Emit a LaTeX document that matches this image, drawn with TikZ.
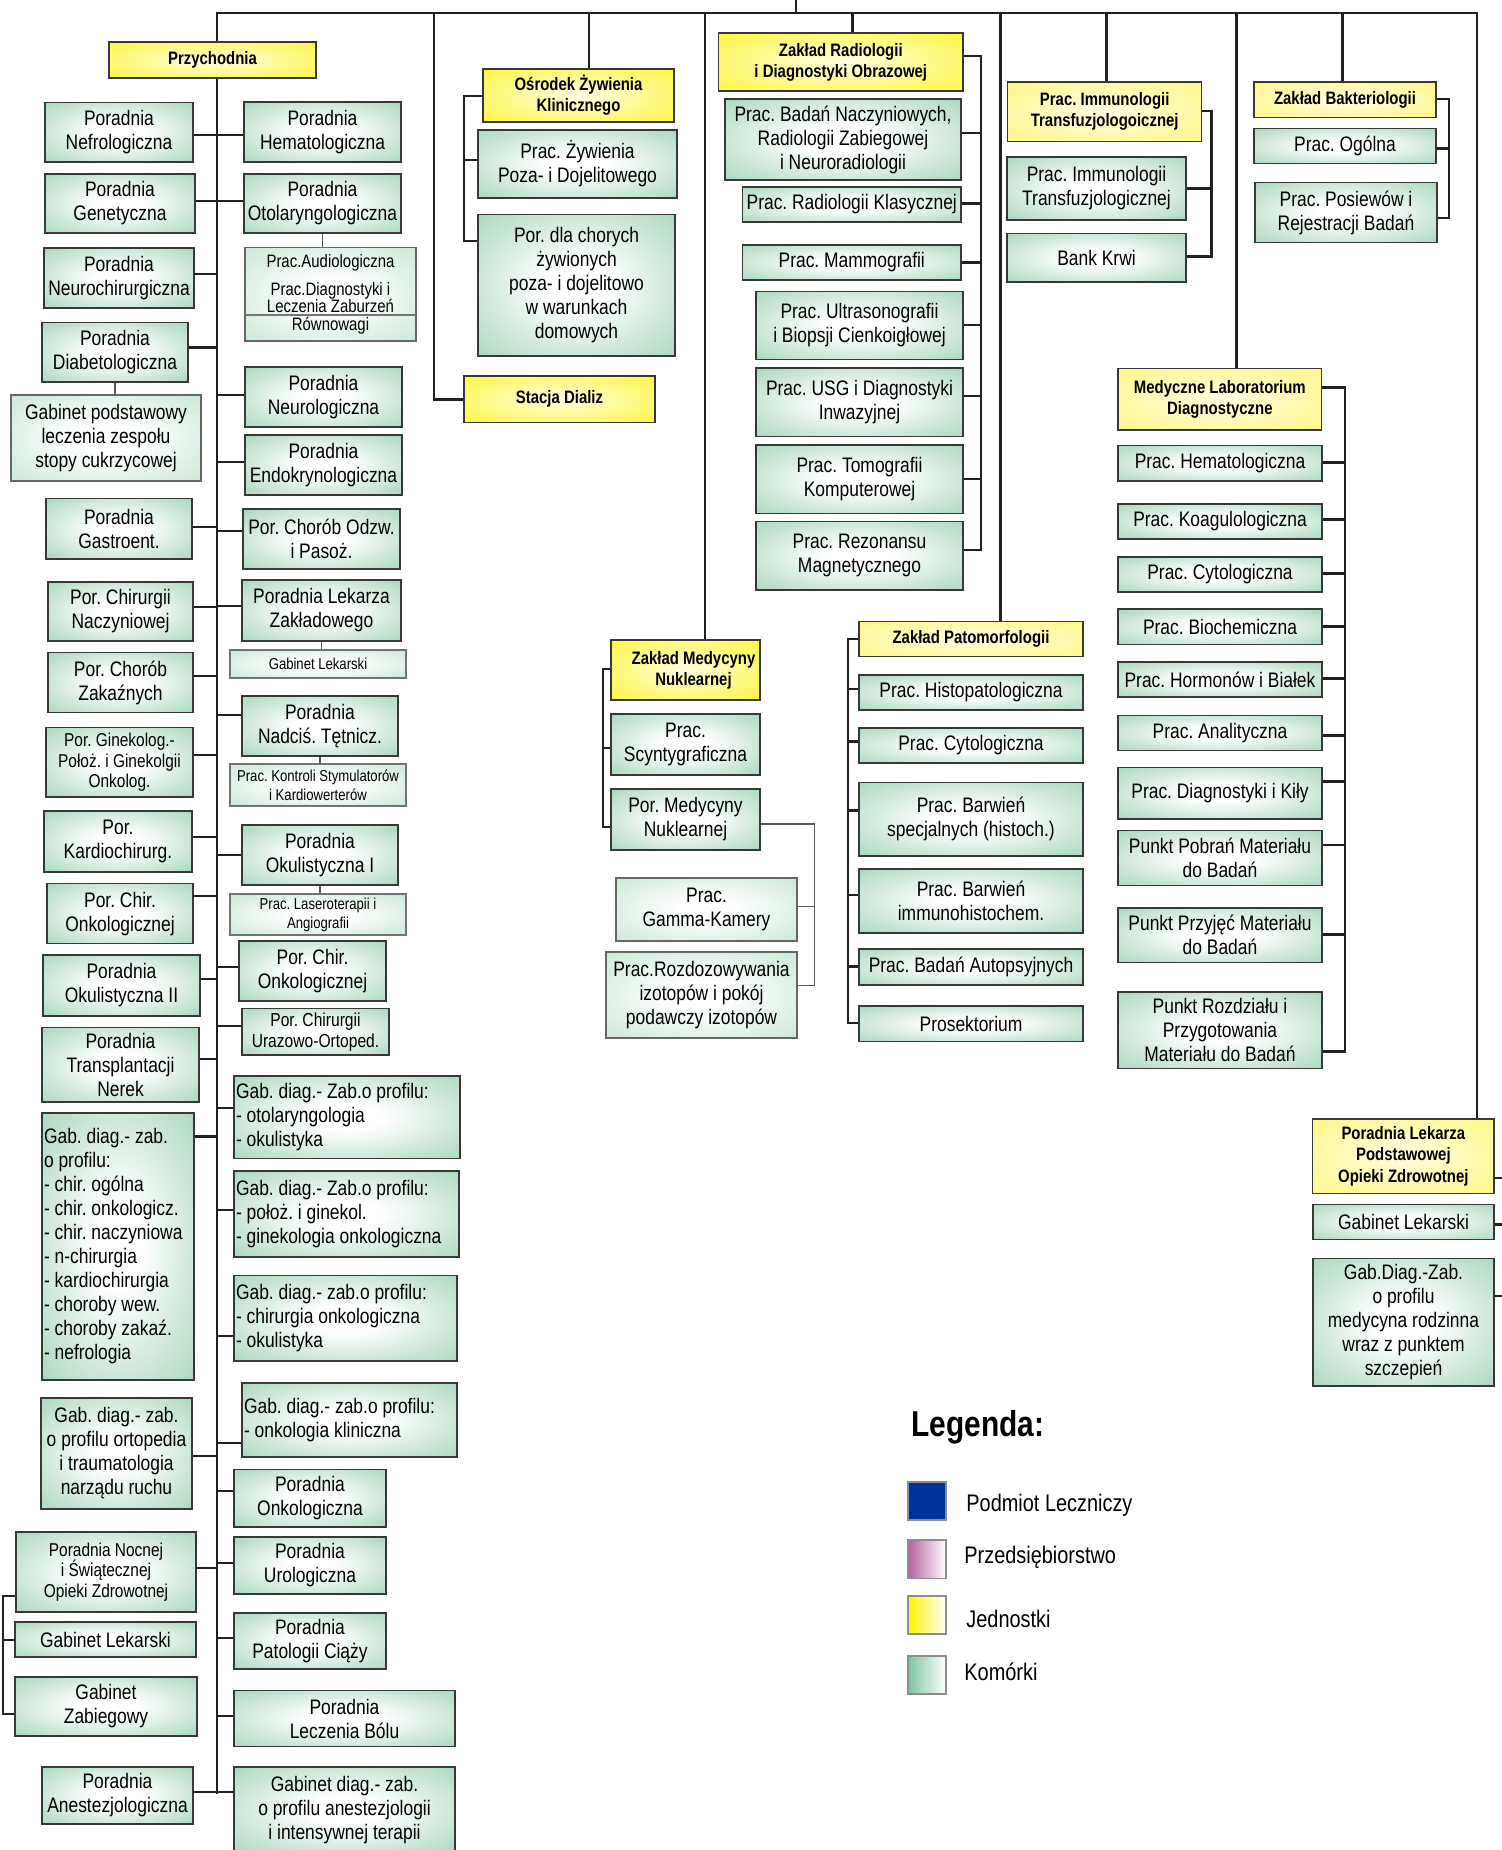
\documentclass[tikz,border=0pt]{standalone}
\usepackage{fontspec}
\setmainfont[FakeStretch=0.83]{Liberation Sans}
\usetikzlibrary{calc}
\definecolor{cellg}{RGB}{126,196,158}
\definecolor{lightg}{RGB}{176,220,194}
\definecolor{yel}{RGB}{255,242,0}
\definecolor{paley}{RGB}{255,244,100}
\definecolor{linec}{RGB}{35,31,32}
\definecolor{legblue}{RGB}{0,51,153}
\definecolor{legpink}{RGB}{180,96,160}
\pgfdeclareradialshading{cellshade}{\pgfpoint{0bp}{0bp}}{color(0bp)=(white);color(8bp)=(white);color(50bp)=(cellg)}
\pgfdeclareradialshading{lightshade}{\pgfpoint{0bp}{0bp}}{color(0bp)=(white);color(8bp)=(white);color(50bp)=(lightg)}
\pgfdeclareradialshading{yelshade}{\pgfpoint{0bp}{0bp}}{color(0bp)=(yel!12!white);color(50bp)=(yel)}
\pgfdeclareradialshading{paleshade}{\pgfpoint{0bp}{0bp}}{color(0bp)=(paley!20!white);color(50bp)=(paley)}
\pgfdeclarelayer{bg}
\pgfsetlayers{bg,main}
\lineskiplimit=-20pt
\frenchspacing
\newcommand\mkbox[7]{%
 \pgfmathsetlengthmacro\bxw{(#5-#3)*0.5pt}%
 \pgfmathsetlengthmacro\bxh{(#6-#4)*0.5pt}%
 \node[#1,minimum width=\bxw,minimum height=\bxh] (#2) at ({(#3+#5)/2},{(#4+#6)/2}) {#7};}
\newcommand\mkboxL[7]{%
 \pgfmathsetlengthmacro\bxw{(#5-#3)*0.5pt-2pt}%
 \pgfmathsetlengthmacro\bxh{(#6-#4)*0.5pt}%
 \node[#1,text width=\bxw,inner xsep=1pt,minimum height=\bxh,align=left] (#2) at ({(#3+#5)/2},{(#4+#6)/2}) {\spaceskip=0pt\xspaceskip=0pt\relax#7};}
\newcommand\tickE[3]{\draw[conn] (#1 |- 0,#3) -- (#2.east |- 0,#3);}
\newcommand\tickW[3]{\draw[conn] (#1 |- 0,#3) -- (#2.west |- 0,#3);}
\newcommand\vbar[3]{\draw[conn] (#1 |- 0,#2) -- (#1 |- 0,#3);}
\begin{document}
\frenchspacing
\begin{tikzpicture}[x=0.5pt,y=-0.5pt,
 base/.style={draw=black!78,line width=0.7pt,inner sep=0pt,outer sep=0pt,align=center},
 cell/.style={base,shading=cellshade,font=\fontsize{10.5}{12}\selectfont},
 cellsm/.style={cell,font=\fontsize{9.3}{10.4}\selectfont},
 sub/.style={base,draw=black!55,line width=0.55pt,shading=lightshade,font=\fontsize{7.9}{9.5}\selectfont},
 subbig/.style={base,draw=black!60,line width=0.6pt,shading=lightshade,font=\fontsize{10.5}{12}\selectfont},
 head/.style={base,shading=yelshade,font=\bfseries\fontsize{9}{10.6}\selectfont},
 headp/.style={base,shading=paleshade,font=\bfseries\fontsize{9}{10.6}\selectfont},
 conn/.style={draw=linec,line width=1.35pt,line cap=rect},
 thinconn/.style={draw=black!65,line width=0.55pt},
 legsq/.style={draw=black!45,line width=0.6pt,inner sep=0pt,outer sep=0pt},
 legt/.style={anchor=west,inner sep=0pt,font=\fontsize{12}{14}\selectfont}]
\useasboundingbox (0,0) rectangle (1501,1850);
% ---------- coordinates for connector lines
\coordinate (tb) at (0,13);
\coordinate (trunk) at (217,0);
\coordinate (rbar) at (1477,0);
\coordinate (topin) at (796,0);
\coordinate (xSt) at (434,0);
\coordinate (xOs) at (589,0);
\coordinate (xNu) at (705,0);
\coordinate (xRa) at (852.5,0);
\coordinate (xPa) at (1000.7,0);
\coordinate (xIm) at (1106.7,0);
\coordinate (xLa) at (1236.7,0);
\coordinate (xBa) at (1342.3,0);
\coordinate (bOs) at (464,0);
\coordinate (bRa) at (981,0);
\coordinate (bIm) at (1211.7,0);
\coordinate (bBa) at (1449,0);
\coordinate (bLa) at (1345,0);
\coordinate (bNu) at (603,0);
\coordinate (bNuB) at (814.6,0);
\coordinate (bPa) at (848,0);
\coordinate (bLb) at (3,0);
\coordinate (redge) at (1501,0);
% ---------- units (yellow)
\mkbox{head}{przych}{109}{42}{316}{78}{Przychodnia}
\mkbox{head}{osrodek}{483}{69}{674}{122}{Ośrodek Żywienia\\Klinicznego}
\mkbox{head}{stacja}{464}{376}{655}{422.5}{Stacja Dializ}
\mkbox{head}{radio}{718.6}{33}{963}{91}{Zakład Radiologii\\i Diagnostyki Obrazowej}
\mkbox{head}{zmn}{611}{640}{760}{700}{\hspace*{8pt}Zakład Medycyny\\\hspace*{8pt}Nuklearnej}
\mkbox{headp}{immuno}{1007.7}{82}{1201.7}{141.3}{Prac. Immunologii\\Transfuzjologoicznej}
\mkbox{headp}{bakt}{1254}{82}{1436}{117.6}{Zakład Bakteriologii}
\mkbox{headp}{lab}{1118}{368.8}{1321.7}{430}{Medyczne Laboratorium\\Diagnostyczne}
\mkbox{headp}{patom}{859}{621.7}{1083}{656.7}{Zakład Patomorfologii}
\mkbox{headp}{plp}{1312.7}{1119}{1494}{1193.3}{Poradnia Lekarza\\Podstawowej\\Opieki Zdrowotnej}
% ---------- Przychodnia, left of trunk
\mkbox{cell}{nefro}{45}{102.5}{193}{162}{Poradnia\\Nefrologiczna}
\mkbox{cell}{genet}{45}{174}{195}{233}{Poradnia\\Genetyczna}
\mkbox{cell}{neuroch}{44}{248}{194}{308}{Poradnia\\Neurochirurgiczna}
\mkbox{cell}{diabet}{42}{322.5}{188}{382}{Poradnia\\Diabetologiczna}
\mkbox{subbig}{gabpodst}{11}{395}{201}{481}{Gabinet podstawowy\\leczenia zespołu\\stopy cukrzycowej}
\mkbox{cell}{gastro}{46}{498.5}{192}{559}{Poradnia\\Gastroent.}
\mkbox{cell}{chirnacz}{48}{582}{193}{641}{Por. Chirurgii\\Naczyniowej}
\mkbox{cell}{zakaz}{48}{652.5}{193}{712.5}{Por. Chorób\\Zakaźnych}
\mkbox{cellsm}{ginek}{46}{727.5}{193}{797}{Por. Ginekolog.-\\Położ. i Ginekolgii\\Onkolog.}
\mkbox{cell}{kardio}{44}{811}{192}{872}{Por.\\Kardiochirurg.}
\mkbox{cell}{chironkL}{47}{883.6}{193}{943.6}{Por. Chir.\\Onkologicznej}
\mkbox{cell}{okulII}{43}{955}{200}{1016}{Poradnia\\Okulistyczna II}
\mkbox{cell}{transpl}{42}{1027.5}{199}{1102}{Poradnia\\Transplantacji\\Nerek}
\mkboxL{cell}{gdL}{42}{1113}{194}{1380}{Gab. diag.- zab.\\o profilu:\\- chir. ogólna\\- chir. onkologicz.\\- chir. naczyniowa\\- n-chirurgia\\- kardiochirurgia\\- choroby wew.\\- choroby zakaź.\\- nefrologia}
\mkbox{cell}{ortop}{41}{1398}{192}{1509}{Gab. diag.- zab.\\o profilu ortopedia\\i traumatologia\\narządu ruchu}
\mkbox{cellsm}{nocnej}{16}{1532}{196}{1612}{Poradnia Nocnej\\i Świątecznej\\Opieki Zdrowotnej}
\mkbox{cell}{gablekL}{15}{1622}{196}{1657}{Gabinet Lekarski}
\mkbox{cell}{zabieg}{15}{1677}{197}{1736}{Gabinet\\Zabiegowy}
\mkbox{cell}{anest}{42}{1767}{193}{1824}{Poradnia\\Anestezjologiczna}
% ---------- Przychodnia, right of trunk
\mkbox{cell}{hemat}{244}{102}{401}{162}{Poradnia\\Hematologiczna}
\mkbox{cell}{otolar}{244}{174}{401}{233}{Poradnia\\Otolaryngologiczna}
\mkbox{base,draw=black!60,line width=0.6pt,shading=lightshade,font=\fontsize{9}{8.2}\selectfont}{audio}{245}{247.5}{416}{341}{Prac.Audiologiczna\\[6pt]Prac.Diagnostyki i\\Leczenia Zaburzeń\\[0.8pt]Równowagi}
\mkbox{cell}{neurol}{245}{367}{402}{427}{Poradnia\\Neurologiczna}
\mkbox{cell}{endokr}{245}{435}{402}{495}{Poradnia\\Endokrynologiczna}
\mkbox{cell}{odzw}{243}{509}{400}{569}{Por. Chorób Odzw.\\i Pasoż.}
\mkbox{cell}{lekzak}{242}{580}{401}{641}{Poradnia Lekarza\\Zakładowego}
\mkbox{sub}{gablekZ}{230}{650}{406}{678}{Gabinet Lekarski}
\mkbox{cell}{nadcis}{242}{696}{398}{756}{Poradnia\\Nadciś. Tętnicz.}
\mkbox{sub}{kontrol}{230}{764}{406}{806}{Prac. Kontroli Stymulatorów\\i Kardiowerterów}
\mkbox{cell}{okulI}{242}{825}{398}{885}{Poradnia\\Okulistyczna I}
\mkbox{sub}{laser}{230}{894}{406}{935}{Prac. Laseroterapii i\\Angiografii}
\mkbox{cell}{chironkR}{239}{941}{386}{1001}{Por. Chir.\\Onkologicznej}
\mkbox{cell,font=\fontsize{9.4}{10.5}\selectfont}{uraz}{242}{1008.6}{389}{1055}{Por. Chirurgii\\Urazowo-Ortoped.}
\mkboxL{cell}{gdOto}{234}{1076}{460}{1158.6}{Gab. diag.- Zab.o profilu:\\- otolaryngologia\\- okulistyka}
\mkboxL{cell}{gdPoloz}{234}{1171}{459}{1257}{Gab. diag.- Zab.o profilu:\\- położ. i ginekol.\\- ginekologia onkologiczna}
\mkboxL{cell}{gdChir}{234}{1275.5}{457}{1361}{Gab. diag.- zab.o profilu:\\- chirurgia onkologiczna\\- okulistyka}
\mkboxL{cell}{gdOnk}{242}{1383}{457}{1457}{Gab. diag.- zab.o profilu:\\- onkologia kliniczna}
\mkbox{cell}{onkol}{234}{1469.5}{386}{1527}{Poradnia\\Onkologiczna}
\mkbox{cell}{urol}{234}{1537}{386}{1594}{Poradnia\\Urologiczna}
\mkbox{cell}{patol}{234}{1613}{386}{1669}{Poradnia\\Patologii Ciąży}
\mkbox{cell}{bolu}{234}{1690.5}{455}{1746.5}{Poradnia\\Leczenia Bólu}
\mkbox{cell}{gdAnest}{234}{1767}{455}{1853}{Gabinet diag.- zab.\\o profilu anestezjologii\\i intensywnej terapii}
% ---------- Ośrodek Żywienia
\mkbox{cell}{zyw}{478}{130}{677}{198}{Prac. Żywienia\\Poza- i Dojelitowego}
\mkbox{cell}{pdc}{478}{214.6}{675}{356}{Por. dla chorych\\żywionych\\poza- i dojelitowo\\w warunkach\\domowych}
% ---------- Radiologia
\mkbox{cell}{badan}{725}{99}{961}{180}{Prac. Badań Naczyniowych,\\Radiologii Zabiegowej\\i Neuroradiologii}
\mkbox{cell}{klas}{742.5}{187}{961}{222}{Prac. Radiologii Klasycznej}
\mkbox{cell}{mammo}{742.5}{245}{961}{280}{Prac. Mammografii}
\mkbox{cell}{usgA}{756}{291.5}{963}{359.6}{Prac. Ultrasonografii\\i Biopsji Cienkoigłowej}
\mkbox{cell}{usgB}{756}{368}{963}{436.5}{Prac. USG i Diagnostyki\\Inwazyjnej}
\mkbox{cell}{tomo}{756}{445}{963}{513.5}{Prac. Tomografii\\Komputerowej}
\mkbox{cell}{rez}{756}{521.6}{963}{590}{Prac. Rezonansu\\Magnetycznego}
% ---------- Medycyna Nuklearna
\mkbox{cell}{scynt}{611}{714}{760}{775}{Prac.\\Scyntygraficzna}
\mkbox{cell}{pmn}{611}{789}{760}{850}{Por. Medycyny\\Nuklearnej}
\mkbox{subbig}{gamma}{616}{878}{797}{941}{Prac.\\Gamma-Kamery}
\mkbox{subbig}{rozd}{606}{952}{797}{1038}{Prac.Rozdozowywania\\izotopów i pokój\\podawczy izotopów}
% ---------- Patomorfologia
\mkbox{cell}{histo}{859}{675}{1083}{710}{Prac. Histopatologiczna}
\mkbox{cell}{cytoP}{859}{728}{1083}{763}{Prac. Cytologiczna}
\mkbox{cell}{barwS}{859}{782.7}{1083}{856}{Prac. Barwień\\specjalnych (histoch.)}
\mkbox{cell}{barwI}{859}{869}{1083}{933}{Prac. Barwień\\immunohistochem.}
\mkbox{cell}{autop}{859}{949}{1083}{985}{Prac. Badań Autopsyjnych}
\mkbox{cell}{prosek}{859}{1006}{1083}{1041.7}{Prosektorium}
% ---------- Immunologia, Bakteriologia
\mkbox{cell}{pracimm}{1007}{157}{1186}{220}{Prac. Immunologii\\Transfuzjologicznej}
\mkbox{cell}{bank}{1007}{233.8}{1186}{282}{Bank Krwi}
\mkbox{cell}{ogolna}{1254}{128.7}{1436}{163.5}{Prac. Ogólna}
\mkbox{cell}{posiew}{1255}{182.8}{1437}{242.3}{Prac. Posiewów i\\Rejestracji Badań}
% ---------- Laboratorium
\mkbox{cell}{lhem}{1118}{445.8}{1322}{481}{Prac. Hematologiczna}
\mkbox{cell}{lkoag}{1118}{504}{1322}{539}{Prac. Koagulologiczna}
\mkbox{cell}{lcyto}{1118}{556.8}{1322}{592}{Prac. Cytologiczna}
\mkbox{cell}{lbio}{1118}{609}{1322}{644.7}{Prac. Biochemiczna}
\mkbox{cell}{lhorm}{1118}{662}{1322}{697}{Prac. Hormonów i Białek}
\mkbox{cell}{lanal}{1118}{715.6}{1322}{750.4}{Prac. Analityczna}
\mkbox{cell}{lkily}{1118}{767.3}{1322}{819}{Prac. Diagnostyki i Kiły}
\mkbox{cell}{lpobr}{1118}{830.7}{1322}{885.4}{Punkt Pobrań Materiału\\do Badań}
\mkbox{cell}{lprzy}{1118}{907.8}{1322}{962.2}{Punkt Przyjęć Materiału\\do Badań}
\mkbox{cell}{lrozd}{1118}{992}{1322}{1068.6}{Punkt Rozdziału i\\Przygotowania\\Materiału do Badań}
% ---------- POZ
\mkbox{cell}{gablekR}{1313}{1204.3}{1494}{1239.3}{Gabinet Lekarski}
\mkbox{cell}{gdR}{1313}{1258.3}{1494}{1386}{Gab.Diag.-Zab.\\o profilu\\medycyna rodzinna\\wraz z punktem\\szczepień}
% ---------- divider inside audiology box
\draw[black!55,line width=0.6pt] (audio.west |- 0,315) -- (audio.east |- 0,315);
% ---------- legend
\node[anchor=base west,inner sep=0pt,font=\bfseries\fontsize{18}{20}\selectfont] (legtitle) at (911,1436) {Legenda:};
\mkbox{legsq,fill=legblue}{lgA}{908}{1482}{946}{1520}{}
\mkbox{legsq,left color=legpink,right color=white}{lgB}{908}{1540}{946}{1578.5}{}
\mkbox{legsq,left color=yel,right color=white}{lgC}{908}{1596}{946}{1634}{}
\mkbox{legsq,left color=cellg,right color=white}{lgD}{908}{1656}{946}{1694}{}
\node[legt] (ltA) at (966,1505) {Podmiot Leczniczy};
\node[legt] (ltB) at (964,1557) {Przedsiębiorstwo};
\node[legt] (ltC) at (966,1619) {Jednostki};
\node[legt] (ltD) at (964,1672) {Komórki};
% ---------- connectors
\begin{pgfonlayer}{bg}
\draw[conn] (trunk |- przych.north) -- (trunk |- tb) -- (rbar |- tb) -- (rbar |- plp.north);
\draw[conn] (topin) -- (topin |- tb);
\draw[conn] (trunk |- przych.south) -- (trunk |- 0,1793);
\draw[conn] (xSt |- tb) -- (xSt |- stacja.west) -- (stacja.west);
\draw[conn] (xOs |- tb) -- (xOs |- osrodek.north);
\draw[conn] (xNu |- tb) -- (xNu |- zmn.north);
\draw[conn] (xRa |- tb) -- (xRa |- radio.north);
\draw[conn] (xPa |- tb) -- (xPa |- patom.north);
\draw[conn] (xIm |- tb) -- (xIm |- immuno.north);
\draw[conn] (xLa |- tb) -- (xLa |- lab.north);
\draw[conn] (xBa |- tb) -- (xBa |- bakt.north);
% trunk, left side
\tickE{trunk}{nefro}{135}
\tickE{trunk}{genet}{201}
\tickE{trunk}{neuroch}{274}
\tickE{trunk}{diabet}{347.5}
\tickE{trunk}{gastro}{527}
\tickE{trunk}{chirnacz}{607}
\tickE{trunk}{zakaz}{676}
\tickE{trunk}{ginek}{755}
\tickE{trunk}{kardio}{837}
\tickE{trunk}{chironkL}{896}
\tickE{trunk}{okulII}{979}
\tickE{trunk}{transpl}{1059}
\tickE{trunk}{gdL}{1136.5}
\tickE{trunk}{ortop}{1456}
\tickE{trunk}{nocnej}{1568}
\tickE{trunk}{anest}{1792}
% trunk, right side
\tickW{trunk}{hemat}{135}
\tickW{trunk}{otolar}{201}
\tickW{trunk}{neurol}{395}
\tickW{trunk}{endokr}{462}
\tickW{trunk}{odzw}{531}
\tickW{trunk}{lekzak}{606}
\tickW{trunk}{nadcis}{715}
\tickW{trunk}{okulI}{855}
\tickW{trunk}{chironkR}{967}
\tickW{trunk}{uraz}{1026}
\tickW{trunk}{gdOto}{1108}
\tickW{trunk}{gdPoloz}{1210}
\tickW{trunk}{gdChir}{1336}
\tickW{trunk}{gdOnk}{1443}
\tickW{trunk}{onkol}{1491}
\tickW{trunk}{urol}{1563}
\tickW{trunk}{patol}{1638}
\tickW{trunk}{bolu}{1716}
\tickW{trunk}{gdAnest}{1792}
% Osrodek bracket
\vbar{bOs}{96}{241}
\tickW{bOs}{osrodek}{96}
\tickW{bOs}{zyw}{160}
\tickW{bOs}{pdc}{241}
% Radiology bracket
\vbar{bRa}{56}{550}
\tickE{bRa}{radio}{56}
\tickE{bRa}{badan}{133}
\tickE{bRa}{klas}{203.5}
\tickE{bRa}{mammo}{262.7}
\tickE{bRa}{usgA}{325}
\tickE{bRa}{usgB}{396}
\tickE{bRa}{tomo}{479}
\tickE{bRa}{rez}{550}
% Immunology bracket
\vbar{bIm}{111}{256.4}
\tickE{bIm}{immuno}{111}
\tickE{bIm}{pracimm}{188.7}
\tickE{bIm}{bank}{256.4}
% Bacteriology bracket
\vbar{bBa}{99}{218}
\tickE{bBa}{bakt}{99}
\tickE{bBa}{ogolna}{148.7}
\tickE{bBa}{posiew}{218}
% Laboratory bracket
\vbar{bLa}{387.7}{1051.7}
\tickE{bLa}{lab}{387.7}
\tickE{bLa}{lhem}{462.5}
\tickE{bLa}{lkoag}{519.8}
\tickE{bLa}{lcyto}{573.8}
\tickE{bLa}{lbio}{626.5}
\tickE{bLa}{lhorm}{678.8}
\tickE{bLa}{lanal}{735.6}
\tickE{bLa}{lkily}{781.4}
\tickE{bLa}{lpobr}{845}
\tickE{bLa}{lprzy}{934.7}
\tickE{bLa}{lrozd}{1051.7}
% Nuclear medicine bracket
\vbar{bNu}{669}{827}
\tickW{bNu}{zmn}{669}
\tickW{bNu}{scynt}{748}
\tickW{bNu}{pmn}{827}
\draw[thinconn] (pmn.east |- 0,824) -- (bNuB |- 0,824) -- (bNuB |- 0,985.7) -- (rozd.east |- 0,985.7);
\draw[thinconn] (bNuB |- 0,906.7) -- (gamma.east |- 0,906.7);
% Pathomorphology bracket
\vbar{bPa}{639}{1023}
\tickW{bPa}{patom}{639}
\tickW{bPa}{histo}{689}
\tickW{bPa}{cytoP}{741.7}
\tickW{bPa}{barwS}{810.7}
\tickW{bPa}{barwI}{895}
\tickW{bPa}{autop}{966.7}
\tickW{bPa}{prosek}{1023}
% night care bracket
\vbar{bLb}{1596}{1714}
\tickW{bLb}{nocnej}{1596}
\tickW{bLb}{gablekL}{1640}
\tickW{bLb}{zabieg}{1714}
% POZ ticks to the right edge
\draw[conn] (plp.east |- 0,1178) -- (redge |- 0,1178);
\draw[conn] (gablekR.east |- 0,1224.3) -- (redge |- 0,1224.3);
\draw[conn] (gdR.east |- 0,1296) -- (redge |- 0,1296);
% thin links to sub-cells
\draw[thinconn] (otolar.south) -- (otolar.south |- audio.north);
\draw[thinconn] (diabet.south) -- (diabet.south |- gabpodst.north);
\draw[thinconn] (lekzak.south) -- (lekzak.south |- gablekZ.north);
\draw[thinconn] (nadcis.south) -- (nadcis.south |- kontrol.north);
\draw[thinconn] (okulI.south) -- (okulI.south |- laser.north);
\end{pgfonlayer}
\end{tikzpicture}
\end{document}
